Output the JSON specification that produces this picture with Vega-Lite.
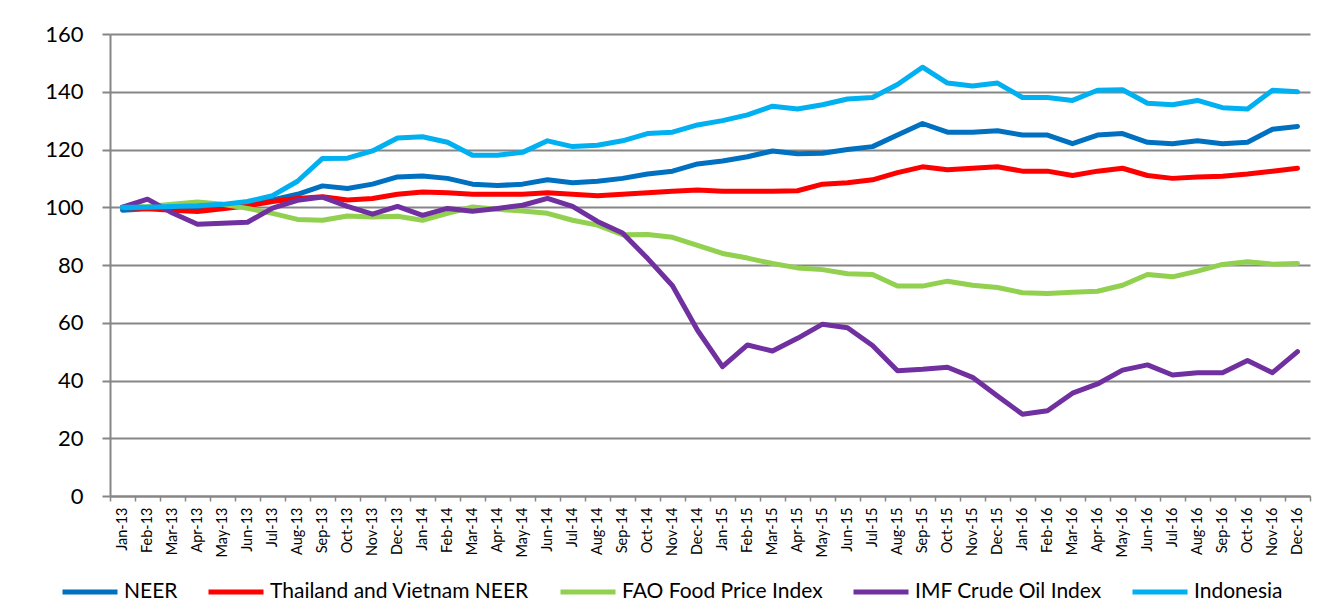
{
  "$schema": "https://vega.github.io/schema/vega-lite/v6.json",
  "width": 1200,
  "height": 462,
  "autosize": {"type": "none"},
  "padding": {"left": 110, "top": 34, "right": 25, "bottom": 115},
  "background": "white",
  "config": {"view": {"stroke": null}, "font": "Lato"},
  "data": {
    "values": [
      {"m":"Jan-13","NEER":99,"Thailand and Vietnam NEER":100,"FAO Food Price Index":100,"IMF Crude Oil Index":100,"Indonesia":100},
      {"m":"Feb-13","NEER":99.5,"Thailand and Vietnam NEER":99.5,"FAO Food Price Index":100.3,"IMF Crude Oil Index":102.8,"Indonesia":100},
      {"m":"Mar-13","NEER":100,"Thailand and Vietnam NEER":99,"FAO Food Price Index":101,"IMF Crude Oil Index":98,"Indonesia":100.3},
      {"m":"Apr-13","NEER":100,"Thailand and Vietnam NEER":98.5,"FAO Food Price Index":101.8,"IMF Crude Oil Index":94.1,"Indonesia":100.5},
      {"m":"May-13","NEER":100.5,"Thailand and Vietnam NEER":99.5,"FAO Food Price Index":101,"IMF Crude Oil Index":94.5,"Indonesia":101},
      {"m":"Jun-13","NEER":101.5,"Thailand and Vietnam NEER":100.5,"FAO Food Price Index":99.6,"IMF Crude Oil Index":94.8,"Indonesia":102},
      {"m":"Jul-13","NEER":102.5,"Thailand and Vietnam NEER":102,"FAO Food Price Index":97.9,"IMF Crude Oil Index":99.7,"Indonesia":104},
      {"m":"Aug-13","NEER":104.5,"Thailand and Vietnam NEER":103,"FAO Food Price Index":95.8,"IMF Crude Oil Index":102.4,"Indonesia":109},
      {"m":"Sep-13","NEER":107.4,"Thailand and Vietnam NEER":103.6,"FAO Food Price Index":95.5,"IMF Crude Oil Index":103.5,"Indonesia":116.9},
      {"m":"Oct-13","NEER":106.5,"Thailand and Vietnam NEER":102.5,"FAO Food Price Index":97,"IMF Crude Oil Index":100.3,"Indonesia":117},
      {"m":"Nov-13","NEER":108,"Thailand and Vietnam NEER":103,"FAO Food Price Index":96.6,"IMF Crude Oil Index":97.6,"Indonesia":119.5},
      {"m":"Dec-13","NEER":110.5,"Thailand and Vietnam NEER":104.5,"FAO Food Price Index":96.9,"IMF Crude Oil Index":100.3,"Indonesia":124},
      {"m":"Jan-14","NEER":110.8,"Thailand and Vietnam NEER":105.3,"FAO Food Price Index":95.5,"IMF Crude Oil Index":97.2,"Indonesia":124.4},
      {"m":"Feb-14","NEER":110,"Thailand and Vietnam NEER":105,"FAO Food Price Index":97.9,"IMF Crude Oil Index":99.6,"Indonesia":122.5},
      {"m":"Mar-14","NEER":108,"Thailand and Vietnam NEER":104.5,"FAO Food Price Index":100.1,"IMF Crude Oil Index":98.6,"Indonesia":118},
      {"m":"Apr-14","NEER":107.5,"Thailand and Vietnam NEER":104.5,"FAO Food Price Index":99.3,"IMF Crude Oil Index":99.6,"Indonesia":118},
      {"m":"May-14","NEER":108,"Thailand and Vietnam NEER":104.5,"FAO Food Price Index":98.7,"IMF Crude Oil Index":100.7,"Indonesia":119},
      {"m":"Jun-14","NEER":109.5,"Thailand and Vietnam NEER":105,"FAO Food Price Index":97.9,"IMF Crude Oil Index":103.1,"Indonesia":123},
      {"m":"Jul-14","NEER":108.5,"Thailand and Vietnam NEER":104.5,"FAO Food Price Index":95.5,"IMF Crude Oil Index":100.3,"Indonesia":121},
      {"m":"Aug-14","NEER":109,"Thailand and Vietnam NEER":104,"FAO Food Price Index":93.8,"IMF Crude Oil Index":95.1,"Indonesia":121.5},
      {"m":"Sep-14","NEER":110,"Thailand and Vietnam NEER":104.5,"FAO Food Price Index":90.5,"IMF Crude Oil Index":91.1,"Indonesia":123},
      {"m":"Oct-14","NEER":111.5,"Thailand and Vietnam NEER":105,"FAO Food Price Index":90.6,"IMF Crude Oil Index":82.3,"Indonesia":125.5},
      {"m":"Nov-14","NEER":112.5,"Thailand and Vietnam NEER":105.5,"FAO Food Price Index":89.6,"IMF Crude Oil Index":72.8,"Indonesia":126},
      {"m":"Dec-14","NEER":115,"Thailand and Vietnam NEER":106,"FAO Food Price Index":86.8,"IMF Crude Oil Index":57.4,"Indonesia":128.5},
      {"m":"Jan-15","NEER":116,"Thailand and Vietnam NEER":105.5,"FAO Food Price Index":84,"IMF Crude Oil Index":44.8,"Indonesia":130},
      {"m":"Feb-15","NEER":117.5,"Thailand and Vietnam NEER":105.5,"FAO Food Price Index":82.4,"IMF Crude Oil Index":52.3,"Indonesia":132},
      {"m":"Mar-15","NEER":119.5,"Thailand and Vietnam NEER":105.5,"FAO Food Price Index":80.5,"IMF Crude Oil Index":50.2,"Indonesia":135},
      {"m":"Apr-15","NEER":118.5,"Thailand and Vietnam NEER":105.7,"FAO Food Price Index":79,"IMF Crude Oil Index":54.6,"Indonesia":134},
      {"m":"May-15","NEER":118.7,"Thailand and Vietnam NEER":108,"FAO Food Price Index":78.4,"IMF Crude Oil Index":59.5,"Indonesia":135.5},
      {"m":"Jun-15","NEER":120,"Thailand and Vietnam NEER":108.5,"FAO Food Price Index":77,"IMF Crude Oil Index":58.3,"Indonesia":137.5},
      {"m":"Jul-15","NEER":121,"Thailand and Vietnam NEER":109.5,"FAO Food Price Index":76.7,"IMF Crude Oil Index":52.1,"Indonesia":138},
      {"m":"Aug-15","NEER":125,"Thailand and Vietnam NEER":112,"FAO Food Price Index":72.7,"IMF Crude Oil Index":43.4,"Indonesia":142.5},
      {"m":"Sep-15","NEER":129,"Thailand and Vietnam NEER":114,"FAO Food Price Index":72.7,"IMF Crude Oil Index":43.9,"Indonesia":148.5},
      {"m":"Oct-15","NEER":126,"Thailand and Vietnam NEER":113,"FAO Food Price Index":74.4,"IMF Crude Oil Index":44.6,"Indonesia":143},
      {"m":"Nov-15","NEER":126,"Thailand and Vietnam NEER":113.5,"FAO Food Price Index":73,"IMF Crude Oil Index":41.1,"Indonesia":142},
      {"m":"Dec-15","NEER":126.5,"Thailand and Vietnam NEER":114,"FAO Food Price Index":72.2,"IMF Crude Oil Index":34.6,"Indonesia":143},
      {"m":"Jan-16","NEER":125,"Thailand and Vietnam NEER":112.5,"FAO Food Price Index":70.4,"IMF Crude Oil Index":28.3,"Indonesia":138},
      {"m":"Feb-16","NEER":125,"Thailand and Vietnam NEER":112.5,"FAO Food Price Index":70.1,"IMF Crude Oil Index":29.5,"Indonesia":138},
      {"m":"Mar-16","NEER":122,"Thailand and Vietnam NEER":111,"FAO Food Price Index":70.6,"IMF Crude Oil Index":35.6,"Indonesia":137},
      {"m":"Apr-16","NEER":125,"Thailand and Vietnam NEER":112.5,"FAO Food Price Index":70.9,"IMF Crude Oil Index":38.8,"Indonesia":140.5},
      {"m":"May-16","NEER":125.5,"Thailand and Vietnam NEER":113.5,"FAO Food Price Index":73,"IMF Crude Oil Index":43.6,"Indonesia":140.7},
      {"m":"Jun-16","NEER":122.5,"Thailand and Vietnam NEER":111,"FAO Food Price Index":76.7,"IMF Crude Oil Index":45.4,"Indonesia":136},
      {"m":"Jul-16","NEER":122,"Thailand and Vietnam NEER":110,"FAO Food Price Index":75.9,"IMF Crude Oil Index":41.9,"Indonesia":135.5},
      {"m":"Aug-16","NEER":123,"Thailand and Vietnam NEER":110.5,"FAO Food Price Index":77.9,"IMF Crude Oil Index":42.7,"Indonesia":137},
      {"m":"Sep-16","NEER":122,"Thailand and Vietnam NEER":110.7,"FAO Food Price Index":80.2,"IMF Crude Oil Index":42.7,"Indonesia":134.5},
      {"m":"Oct-16","NEER":122.5,"Thailand and Vietnam NEER":111.5,"FAO Food Price Index":81.1,"IMF Crude Oil Index":46.9,"Indonesia":134},
      {"m":"Nov-16","NEER":127,"Thailand and Vietnam NEER":112.5,"FAO Food Price Index":80.3,"IMF Crude Oil Index":42.7,"Indonesia":140.5},
      {"m":"Dec-16","NEER":128,"Thailand and Vietnam NEER":113.5,"FAO Food Price Index":80.5,"IMF Crude Oil Index":50,"Indonesia":140}
    ]
  },
  "transform": [
    {"fold": ["NEER", "Thailand and Vietnam NEER", "FAO Food Price Index", "IMF Crude Oil Index", "Indonesia"], "as": ["series", "value"]}
  ],
  "mark": {"type": "line", "strokeWidth": 5, "strokeCap": "round", "strokeJoin": "round"},
  "encoding": {
    "x": {
      "field": "m", "type": "ordinal", "sort": null,
      "scale": {"type": "band", "paddingInner": 0, "paddingOuter": 0},
      "bandPosition": 0.5,
      "axis": {
        "title": null, "tickBand": "extent", "labelAngle": -90,
        "labelFontSize": 14.5, "labelColor": "#000000", "labelPadding": 6,
        "tickSize": 5, "tickColor": "#868686", "tickWidth": 1.5,
        "domainColor": "#868686", "domainWidth": 2, "grid": false
      }
    },
    "y": {
      "field": "value", "type": "quantitative",
      "scale": {"domain": [0, 160], "nice": false, "zero": true},
      "axis": {
        "title": null, "values": [0, 20, 40, 60, 80, 100, 120, 140, 160],
        "labelFontSize": 22, "labelColor": "#000000", "labelPadding": 19,
        "tickSize": 8, "tickColor": "#868686", "tickWidth": 2,
        "domainColor": "#868686", "domainWidth": 2,
        "grid": true, "gridColor": "#868686", "gridWidth": 2
      }
    },
    "color": {
      "field": "series", "type": "nominal",
      "scale": {
        "domain": ["NEER", "Thailand and Vietnam NEER", "FAO Food Price Index", "IMF Crude Oil Index", "Indonesia"],
        "range": ["#0070C0", "#FF0000", "#92D050", "#7030A0", "#00B0F0"]
      },
      "legend": {
        "title": null, "orient": "none", "direction": "horizontal",
        "legendX": -50, "legendY": 528,
        "symbolType": "stroke", "symbolSize": 3025, "symbolStrokeWidth": 5,
        "labelFontSize": 21, "labelColor": "#000000", "labelOffset": 4,
        "columnPadding": 20, "labelLimit": 400
      }
    }
  }
}
